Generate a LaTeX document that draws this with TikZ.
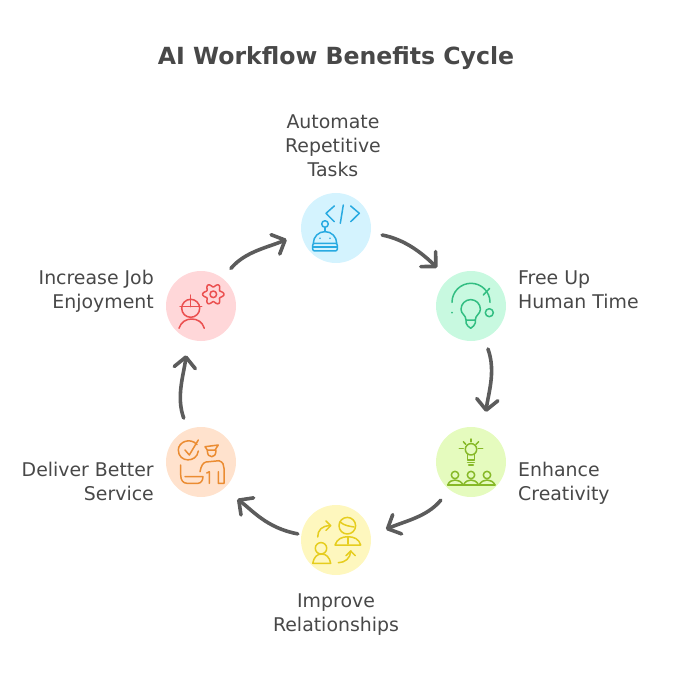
\documentclass[tikz,border=0pt]{standalone}
\usepackage{fontspec}
\setmainfont{DejaVu Sans}
\usetikzlibrary{arrows.meta}
\definecolor{mytext}{RGB}{72,72,72}
\definecolor{myarrow}{RGB}{92,92,92}
\definecolor{mylightblue}{RGB}{212,243,254}
\definecolor{mydarkblue}{RGB}{40,170,225}
\definecolor{mylightgreen}{RGB}{200,249,224}
\definecolor{mydarkgreen}{RGB}{50,190,130}
\definecolor{mylightlime}{RGB}{229,251,190}
\definecolor{mydarklime}{RGB}{135,185,40}
\definecolor{mylightyellow}{RGB}{254,247,190}
\definecolor{mydarkyellow}{RGB}{230,205,30}
\definecolor{mylightorange}{RGB}{255,226,205}
\definecolor{mydarkorange}{RGB}{235,140,50}
\definecolor{mylightred}{RGB}{255,215,217}
\definecolor{mydarkred}{RGB}{235,80,80}
\newcommand{\sizebenefit}{70pt}
\pgfdeclarearrow{
    name=flowbarb,
    setup code={
        \pgfarrowssettipend{1.8pt}
        \pgfarrowssetlineend{-1pt}
        \pgfarrowssetvisualbackend{-10.6pt}
        \pgfarrowssetbackend{-10.6pt}
        \pgfarrowshullpoint{1.8pt}{0pt}
        \pgfarrowshullpoint{-10.6pt}{10.6pt}
        \pgfarrowshullpoint{-10.6pt}{-10.6pt}
    },
    drawing code={
        \pgfsetdash{}{0pt}
        \pgfsetroundjoin
        \pgfsetroundcap
        \pgfpathmoveto{\pgfqpoint{-10.6pt}{10.6pt}}
        \pgfpathlineto{\pgfqpoint{0pt}{0pt}}
        \pgfpathlineto{\pgfqpoint{-10.6pt}{-10.6pt}}
        \pgfusepathqstroke
    }
}
\tikzset{
    common/.style={text=mytext, inner sep=0pt},
    heading/.style={common, font=\fontsize{23.6}{28}\selectfont\bfseries},
    caption/.style={common, font=\fontsize{18.9}{24}\selectfont},
    captionleft/.style={caption, align=left, anchor=west},
    captionright/.style={caption, align=right, anchor=east},
    captionmid/.style={caption, align=center},
    benefit/.style={circle, inner sep=0pt, minimum size=\sizebenefit},
    flow/.style={
        draw=myarrow, line width=3.6pt, line cap=round, line join=round,
        -flowbarb, relative, out=20, in=174
    },
    icon/.style={line width=1.5pt, line cap=round, line join=round}
}
\begin{document}
\begin{tikzpicture}[x=1pt, y=-1pt]
            \useasboundingbox (0,0) rectangle (684,684);

            \node[heading] (title) at (336,58) {AI Workflow Benefits Cycle};

            \node[benefit, fill=mylightblue] (automate) at (336,228) {};
            \node[benefit, fill=mylightgreen] (free) at (471,306) {};
            \node[benefit, fill=mylightlime] (enhance) at (471,462) {};
            \node[benefit, fill=mylightyellow] (improve) at (336,540) {};
            \node[benefit, fill=mylightorange] (deliver) at (201,462) {};
            \node[benefit, fill=mylightred] (increase) at (201,306) {};

            \node[captionmid] (automate-label) at (333,146) {Automate\\Repetitive\\Tasks};
            \node[captionleft] (free-label) at (518,290) {Free Up\\Human Time};
            \node[captionleft] (enhance-label) at (518,483) {Enhance\\Creativity};
            \node[captionmid] (improve-label) at (336,615) {Improve\\Relationships};
            \node[captionright] (deliver-label) at (154,481) {Deliver Better\\Service};
            \node[captionright] (increase-label) at (154,291) {Increase Job\\Enjoyment};

            \draw[flow, in=166, shorten <=11.5pt, shorten >=16pt] (automate.-8.6) to (free.130);
            \draw[flow, shorten <=11pt, shorten >=17.5pt] (free.-68.4) to (enhance.68.8);
            \draw[flow, shorten <=13.4pt, shorten >=16.4pt] (enhance.-128.3) to (improve.6.7);
            \draw[flow, shorten <=3.5pt, shorten >=17pt] (improve.171) to (deliver.-50.5);
            \draw[flow, shorten <=12pt, shorten >=16.7pt] (deliver.112) to (increase.-112);
            \draw[flow, shorten <=12.8pt, shorten >=15.8pt] (increase.52.6) to (automate.188);

            \begin{scope}[icon, draw=mydarkblue]
                \draw (334.3,206) -- (326,213.3) -- (334.3,221.7);
                \draw (343.3,205) -- (340.3,223.3);
                \draw (350.7,206) -- (359.3,213.3) -- (350.7,221.7);
                \draw (325,224) circle (3.3);
                \draw (325,227.3) -- (325,231.6);
                \draw (313.3,243.3) arc[start angle=180, end angle=360, radius=11.7];
                \draw[rounded corners=2pt] (312.7,243.3) rectangle (337.3,251);
                \draw (313,246.8) -- (337,246.8);
                \fill[mydarkblue] (320,238.3) circle (0.9) (330,238.3) circle (0.9);
            \end{scope}

            \begin{scope}[icon, draw=mydarkgreen]
                \draw (452,302.3) arc[start angle=180, end angle=360, radius=19];
                \draw (483.3,295) -- (489.5,288.5);
                \draw (489.3,312.7) circle (4);
                \fill[mydarkgreen] (452,312.7) circle (1);
                \draw (466,320) .. controls (466,315) and (461,314) .. (461,309.3)
                    arc[start angle=180, end angle=360, radius=9.7]
                    .. controls (480.4,314) and (475.3,315) .. (475.3,320) -- cycle;
                \draw (466,320) -- (466,323) .. controls (466,326) and (469,326) .. (470.7,328.3)
                    .. controls (472.4,326) and (475.3,326) .. (475.3,323) -- (475.3,320);
            \end{scope}

            \begin{scope}[icon, draw=mydarklime]
                \draw (471,449.3) circle (5.7);
                \draw (471,439) -- (471,441.7) (459.3,448.7) -- (463.3,448.7) (478.3,448.7) -- (482.7,448.7);
                \draw (463.3,441.7) -- (465.7,444.3) (478.7,441.7) -- (476,444.3);
                \draw (467.7,454.3) -- (467.7,460) -- (474.3,460) -- (474.3,454.3);
                \draw (467.7,462.7) -- (474.3,462.7) (468.7,465) -- (473.3,465);
                \draw (455,475) circle (3.7) (471,475) circle (3.7) (487,475) circle (3.7);
                \draw (447.7,485) .. controls (449,481.5) and (452,480) .. (455,480)
                    .. controls (458,480) and (461.5,481.5) .. (463,485);
                \draw (463.5,485) .. controls (465,481.5) and (468,480) .. (471,480)
                    .. controls (474,480) and (477,481.5) .. (478.5,485);
                \draw (479,485) .. controls (481,481.5) and (484,480) .. (487,480)
                    .. controls (490,480) and (493.5,481.5) .. (495,485);
                \draw (447.7,485) -- (495,485);
            \end{scope}

            \begin{scope}[icon, draw=mydarkyellow]
                \draw (347.3,525.7) circle (8.3);
                \draw (340,522) .. controls (345,526) and (349,526) .. (354,527);
                \draw (335,545) .. controls (337,539) and (342,536.7) .. (347.8,536.7)
                    .. controls (354,536.7) and (359,539) .. (360.7,545) -- cycle;
                \draw (347.8,537) -- (347.8,544);
                \draw (321,548.3) circle (5.7);
                \draw (312.7,563.3) .. controls (314,557) and (317,554) .. (321.7,554)
                    .. controls (326,554) and (329.5,557) .. (330.7,563.3) -- cycle;
                \draw (317.7,537) .. controls (317.7,530) and (322,525.7) .. (330,525.7);
                \draw (326,521) -- (330.7,525.7) -- (326,530.3);
                \draw (338.3,562.7) .. controls (345,562.7) and (350.7,558) .. (350.7,551);
                \draw (346,555.7) -- (350.7,551) -- (355.3,555.7);
            \end{scope}

            \begin{scope}[icon, draw=mydarkorange]
                \draw (197,444.5) .. controls (190,437) and (178.3,442) .. (178.3,450)
                    .. controls (178.3,463) and (197,463) .. (198.3,451);
                \draw (185,450) -- (189.3,455) -- (198.3,440);
                \draw (205,446.7) -- (218.3,445) -- (215,450) -- (207.3,450) -- cycle;
                \draw (207.3,450) .. controls (207.3,455) and (209,456.7) .. (211.7,456.7)
                    .. controls (214,456.7) and (216,455) .. (216,450);
                \draw (200,471.7) .. controls (201,466) and (203,462.7) .. (206,462)
                    -- (219,460.7) .. controls (223,462) and (224,465) .. (224,468.3)
                    -- (224,483.3) -- (218.3,483.3) -- (218.3,471.7);
                \draw (206.7,473) -- (209.3,471.7) -- (209.3,483.3);
                \draw (180.7,465) -- (180.7,475) .. controls (180.7,480) and (183,483.3) .. (187,483.3)
                    -- (198,483.3) .. controls (201,483.3) and (203,480) .. (203,476.7) -- (185,476.7);
            \end{scope}

            \begin{scope}[icon, draw=mydarkred]
                \draw plot[domain=0:360, samples=73, smooth]
                    ({213.3+(9+1.7*cos(6*\x))*cos(\x)}, {294.3+(9+1.7*cos(6*\x))*sin(\x)}) -- cycle;
                \draw (213.3,294.3) circle (3.3);
                \draw (190.7,308.3) circle (9);
                \draw (180,306.7) -- (201.7,306.7);
                \draw (190.7,295) -- (190.7,306.7);
                \draw (179,328.3) .. controls (181,322) and (186,319) .. (191.7,319)
                    .. controls (197.5,319) and (202.5,322) .. (204.3,328.3);
            \end{scope}
        \end{tikzpicture}
\end{document}
